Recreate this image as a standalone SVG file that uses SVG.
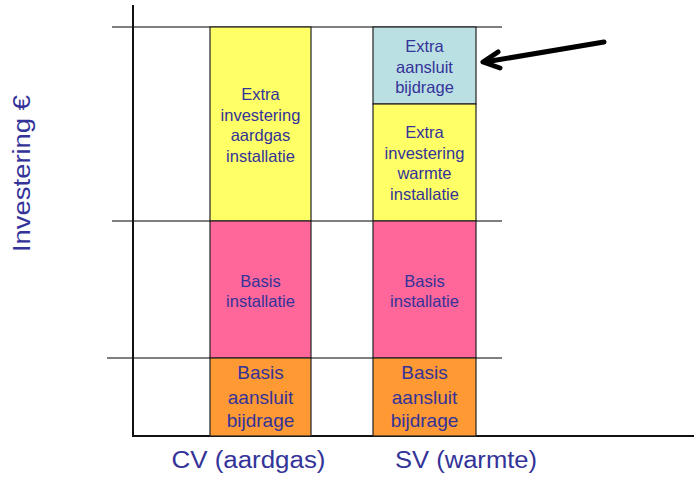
<svg xmlns="http://www.w3.org/2000/svg" width="694" height="477" viewBox="0 0 694 477">
<style>
.grid{stroke:#000;stroke-width:1.2;fill:none}
.axis{stroke:#111;stroke-width:2;fill:none}
.box{stroke:#222;stroke-width:1.2}
.t{font-family:"Liberation Sans",Arial,sans-serif;fill:#333399;text-anchor:middle}
.s{font-size:16.5px}
.m{font-size:19px}
.l{font-size:23px}
</style>
<rect width="694" height="477" fill="#fff"/>
<g id="gridlines">
<line class="grid" x1="112" y1="27" x2="502" y2="27"/>
<line class="grid" x1="112" y1="221" x2="502" y2="221"/>
<line class="grid" x1="107" y1="358" x2="502" y2="358"/>
</g>
<g id="axes">
<line class="axis" x1="133" y1="5" x2="133" y2="436"/>
<line class="axis" x1="132" y1="436" x2="694" y2="436"/>
</g>
<g id="cv-extra">
<rect class="box" x="210" y="27" width="101" height="194" fill="#FFFF66"/>
<text class="t s" x="260.5" y="100">Extra</text>
<text class="t s" x="260.5" y="121">investering</text>
<text class="t s" x="260.5" y="141">aardgas</text>
<text class="t s" x="260.5" y="162">installatie</text>
</g>
<g id="cv-basis-installatie">
<rect class="box" x="210" y="221" width="101" height="137" fill="#FF6699"/>
<text class="t s" x="260.5" y="287">Basis</text>
<text class="t s" x="260.5" y="307">installatie</text>
</g>
<g id="cv-basis-aansluit">
<rect class="box" x="210" y="358" width="101" height="78" fill="#FF9933"/>
<text class="t m" x="260.5" y="379">Basis</text>
<text class="t m" x="260.5" y="404">aansluit</text>
<text class="t m" x="260.5" y="427">bijdrage</text>
</g>
<g id="sv-extra-aansluit">
<rect class="box" x="373" y="27" width="103" height="77" fill="#BBE0E3"/>
<text class="t s" x="424.5" y="52">Extra</text>
<text class="t s" x="424.5" y="72.5">aansluit</text>
<text class="t s" x="424.5" y="93">bijdrage</text>
</g>
<g id="sv-extra">
<rect class="box" x="373" y="104" width="103" height="117" fill="#FFFF66"/>
<text class="t s" x="424.5" y="138">Extra</text>
<text class="t s" x="424.5" y="158.5">investering</text>
<text class="t s" x="424.5" y="179">warmte</text>
<text class="t s" x="424.5" y="199.5">installatie</text>
</g>
<g id="sv-basis-installatie">
<rect class="box" x="373" y="221" width="103" height="137" fill="#FF6699"/>
<text class="t s" x="424.5" y="287">Basis</text>
<text class="t s" x="424.5" y="307">installatie</text>
</g>
<g id="sv-basis-aansluit">
<rect class="box" x="373" y="358" width="103" height="78" fill="#FF9933"/>
<text class="t m" x="424.5" y="379">Basis</text>
<text class="t m" x="424.5" y="404">aansluit</text>
<text class="t m" x="424.5" y="427">bijdrage</text>
</g>
<g id="labels">
<text class="t l" x="248.5" y="468" textLength="154" lengthAdjust="spacingAndGlyphs">CV (aardgas)</text>
<text class="t l" x="466" y="468" textLength="142" lengthAdjust="spacingAndGlyphs">SV (warmte)</text>
<text class="t l" transform="translate(30,173.5) rotate(-90)" x="0" y="0" textLength="157" lengthAdjust="spacingAndGlyphs">Investering €</text>
</g>
<g id="connectors">
<g fill="none" stroke="#000" stroke-width="5" stroke-linecap="round" stroke-linejoin="round">
<line x1="604" y1="42" x2="485" y2="62"/>
<polyline points="498,52 483,62 500,68"/>
</g>
</g>
</svg>
